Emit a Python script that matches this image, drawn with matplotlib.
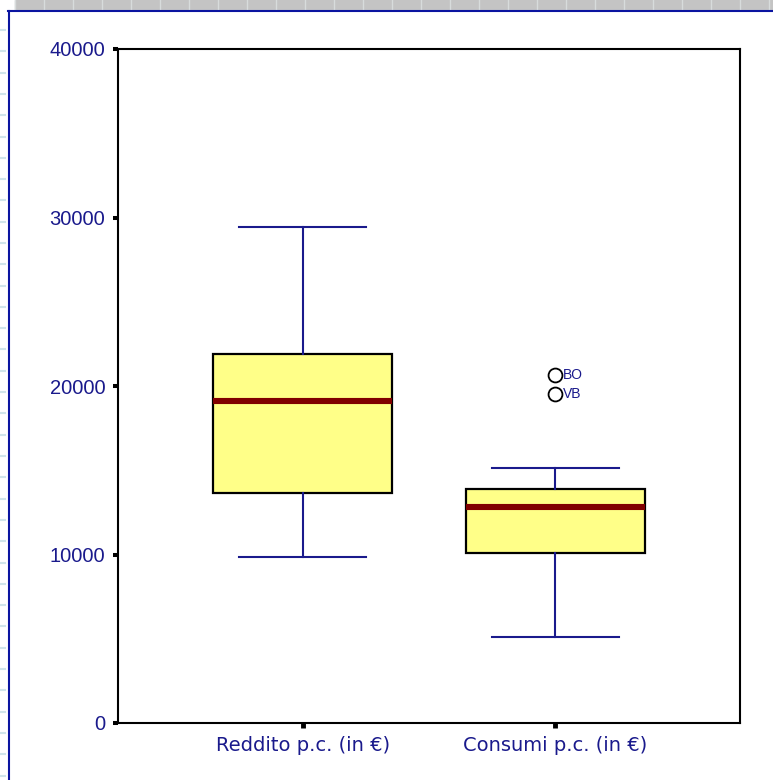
import matplotlib.pyplot as plt
import matplotlib.lines as mlines
import matplotlib.patches as mpatches

# values
labels = ['Reddito p.c. (in €)', 'Consumi p.c. (in €)']
whislo = [9840, 5090]
q1 = [13630, 10070]
med = [19100, 12800]
q3 = [21870, 13870]
whishi = [29450, 15120]
outliers = [[], [20650, 19520]]
outlier_names = [[], ['BO', 'VB']]

navy = '#1a1a8c'
box_fill = '#ffff88'
median_red = '#800000'

fig = plt.figure(figsize=(7.73, 7.80), dpi=100)

# window chrome from the screenshot: grey ruler on top, blue frame line
fig.patches.append(mpatches.Rectangle((15 / 773, 1 - 10 / 780), 1, 10 / 780,
                                      transform=fig.transFigure, color='#c4c4c4', zorder=0))
for k in range(40):
    xx = (15 + 29 * k) / 773
    fig.lines.append(mlines.Line2D([xx, xx], [1 - 10 / 780, 1], transform=fig.transFigure,
                                   color='#d8dcdc', lw=1))
for k in range(40):
    yy = 1 - (30 + 21.3 * k) / 780
    fig.lines.append(mlines.Line2D([0, 5 / 773], [yy, yy], transform=fig.transFigure,
                                   color='#cfe4ea', lw=1.5))
fig.lines.append(mlines.Line2D([8 / 773, 1], [1 - 11 / 780, 1 - 11 / 780],
                               transform=fig.transFigure, color='#0a14a0', lw=1.5))
fig.lines.append(mlines.Line2D([9 / 773, 9 / 773], [0, 1 - 11 / 780],
                               transform=fig.transFigure, color='#0a14a0', lw=1.5))

ax = fig.add_axes([118 / 773, 57 / 780, 622 / 773, 674 / 780])

stats = []
for i in range(len(labels)):
    stats.append({'whislo': whislo[i], 'q1': q1[i], 'med': med[i], 'q3': q3[i],
                  'whishi': whishi[i], 'fliers': outliers[i], 'label': labels[i]})

ax.bxp(stats, positions=[1, 2], widths=0.71, patch_artist=True,
       boxprops=dict(facecolor=box_fill, edgecolor='black', linewidth=1.6),
       medianprops=dict(color=median_red, linewidth=4.4, solid_capstyle='butt'),
       whiskerprops=dict(color=navy, linewidth=1.5),
       capprops=dict(color=navy, linewidth=1.5),
       capwidths=0.5,
       flierprops=dict(marker='o', markerfacecolor='none', markeredgecolor='black',
                       markersize=10, markeredgewidth=1.3))

for i in range(len(labels)):
    for v, name in zip(outliers[i], outlier_names[i]):
        ax.text(i + 1 + 0.03, v, name, color=navy, fontsize=10,
                family='Liberation Sans', va='center', ha='left')

ax.set_xlim(0.27, 2.73)
ax.set_ylim(0, 40000)
ax.set_yticks([0, 10000, 20000, 30000, 40000])
ax.set_yticklabels(['0', '10000', '20000', '30000', '40000'],
                   family='Liberation Sans', fontsize=14.5, color=navy)
ax.set_xticklabels(labels, fontsize=14, color=navy)

for s in ax.spines.values():
    s.set_linewidth(1.5)
ax.tick_params(axis='y', direction='out', length=3.6, width=2.9, pad=5.5)
ax.tick_params(axis='x', direction='out', length=3.6, width=3.5, pad=6)

fig.savefig('out.png', dpi=100)
